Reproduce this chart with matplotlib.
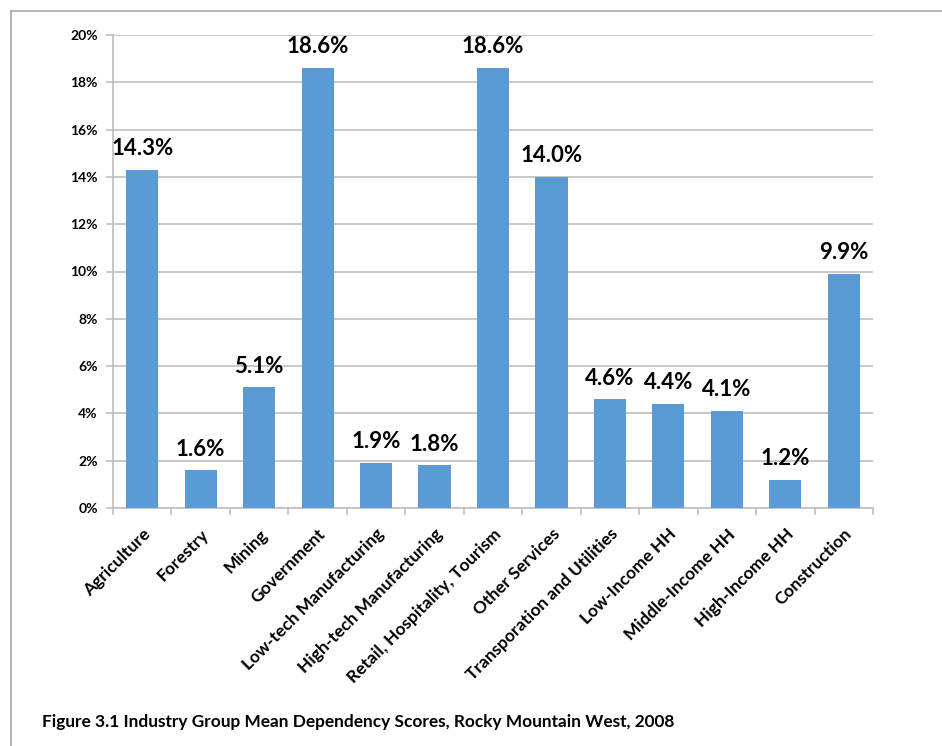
import matplotlib
matplotlib.use("Agg")
import matplotlib.pyplot as plt
from matplotlib.lines import Line2D
from matplotlib.ticker import FuncFormatter, MultipleLocator

categories = ["Agriculture", "Forestry", "Mining", "Government", "Low-tech Manufacturing",
              "High-tech Manufacturing", "Retail, Hospitality, Tourism", "Other Services",
              "Transporation and Utilities", "Low-Income HH", "Middle-Income HH",
              "High-Income HH", "Construction"]
values = [14.3, 1.6, 5.1, 18.6, 1.9, 1.8, 18.6, 14.0, 4.6, 4.4, 4.1, 1.2, 9.9]
value_labels = ["14.3%", "1.6%", "5.1%", "18.6%", "1.9%", "1.8%", "18.6%", "14.0%",
                "4.6%", "4.4%", "4.1%", "1.2%", "9.9%"]
caption = "Figure 3.1 Industry Group Mean Dependency Scores, Rocky Mountain West, 2008"

plt.rcParams['font.family'] = ['Lato', 'DejaVu Sans']

W, H = 942, 746
fig = plt.figure(figsize=(W / 100, H / 100), dpi=100)
ax = fig.add_axes([113 / W, 1 - 508 / H, (873 - 113) / W, (508 - 35) / H])

x = list(range(len(categories)))
ax.bar(x, values, width=0.55, color="#5B9BD5", zorder=3)
for xi, v, lab in zip(x, values, value_labels):
    ax.text(xi, v + 0.45, lab, ha="center", va="bottom", fontsize=16, fontweight="bold",
            color="black", zorder=4)

ax.set_xlim(-0.5, len(categories) - 0.5)
ax.set_ylim(0, 20)
ax.yaxis.set_major_locator(MultipleLocator(2))
ax.yaxis.set_major_formatter(FuncFormatter(lambda v, p: f"{v:.0f}%"))
ax.grid(axis="y", color="#BFBFBF", linewidth=1.2, zorder=0)
ax.set_axisbelow(True)

for s in ["top", "right"]:
    ax.spines[s].set_visible(False)
ax.spines["left"].set_color("#BFBFBF")
ax.spines["bottom"].set_color("#BFBFBF")
ax.spines["left"].set_linewidth(1.2)
ax.spines["bottom"].set_linewidth(1.2)

ax.set_xticks(x)
ax.set_xticklabels(categories, rotation=45, ha="right", rotation_mode="anchor",
                   fontsize=12.5, fontweight="bold")
ax.set_xticks([i - 0.5 for i in range(len(categories) + 1)], minor=True)
ax.tick_params(axis="x", which="major", length=0, pad=13)
ax.tick_params(axis="x", which="minor", length=5, color="#BFBFBF", width=1.2)
ax.tick_params(axis="y", length=5, color="#BFBFBF", width=1.2, labelsize=10, pad=6)
for t in ax.get_yticklabels():
    t.set_fontweight("bold")

# figure border
fig.add_artist(Line2D([10.5 / W, 10.5 / W], [0, 1 - 10.5 / H], transform=fig.transFigure,
                      color="#A6A6A6", linewidth=1.2))
fig.add_artist(Line2D([10.5 / W, 1], [1 - 10.5 / H, 1 - 10.5 / H], transform=fig.transFigure,
                      color="#A6A6A6", linewidth=1.2))

fig.text(42 / W, 1 - 722 / H, caption, ha="left", va="center", fontsize=12.4, fontweight="bold")

fig.savefig("out.png", dpi=100, facecolor="white")
